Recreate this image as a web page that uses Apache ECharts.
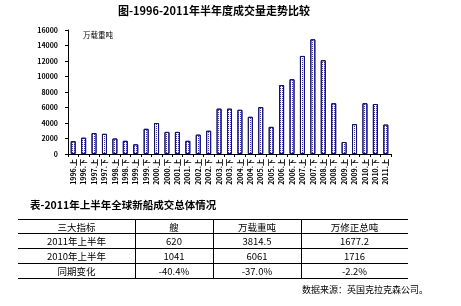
<!DOCTYPE html>
<html><head><meta charset="utf-8">
<script src="https://cdn.jsdelivr.net/npm/echarts@6/dist/echarts.min.js"></script>
<style>html,body{margin:0;padding:0;background:#fff}#c{width:461px;height:306px}</style>
</head><body><div id="c"></div>
<script>
const categories = ['1996.上','1996.下','1997.上','1997.下','1998.上','1998.下','1999.上','1999.下','2000.上','2000.下','2001.上','2001.下','2002.上','2002.下','2003.上','2003.下','2004.上','2004.下','2005.上','2005.下','2006.上','2006.下','2007.上','2007.下','2008.上','2008.下','2009.上','2009.下','2010.上','2010.下','2011.上'];
const volumes = [1650,2100,2700,2600,2000,1700,1250,3250,4000,2850,2850,1700,2500,3000,5850,5850,5700,4800,6050,3500,8900,9650,12650,14800,12100,6550,1550,3850,6550,6450,3800];
const yTicks = [0,2000,4000,6000,8000,10000,12000,14000,16000];
const chartTitle = '图-1996-2011年半年度成交量走势比较';
const unitLabel = '万载重吨';
const tableTitle = '表-2011年上半年全球新船成交总体情况';
const tableHeader = ['三大指标','艘','万载重吨','万修正总吨'];
const tableRow1 = ['2011年上半年','620','3814.5','1677.2'];
const tableRow2 = ['2010年上半年','1041','6061','1716'];
const tableRow3 = ['同期变化','-40.4%','-37.0%','-2.2%'];
const sourceNote = '数据来源：英国克拉克森公司。';

const FONT = '"Noto Sans CJK SC", "DejaVu Sans", sans-serif';
const chart = echarts.init(document.getElementById('c'), null, {renderer:'canvas'});

const colX = [18,135,213,301,408];
const rowY = [219,233,248,263,278];
const rows = [tableHeader, tableRow1, tableRow2, tableRow3];
const g = [];
g.push({type:'text', x:214, y:5, style:{text:chartTitle, font:'bold 11px '+FONT, fill:'#000', align:'center'}});
g.push({type:'text', x:83, y:31, style:{text:unitLabel, font:'7.5px '+FONT, fill:'#000'}});
g.push({type:'text', x:30, y:200, style:{text:tableTitle, font:'bold 10.5px '+FONT, fill:'#000'}});
rowY.forEach(y=>g.push({type:'line', shape:{x1:colX[0],y1:y+0.5,x2:colX[4],y2:y+0.5}, style:{stroke:'#000',lineWidth:1}}));
[1,2,3].forEach(i=>g.push({type:'line', shape:{x1:colX[i]+0.5,y1:rowY[0],x2:colX[i]+0.5,y2:rowY[4]}, style:{stroke:'#000',lineWidth:1}}));
rows.forEach((r,ri)=>{
  r.forEach((t,ci)=>{
    g.push({type:'text', x:(colX[ci]+colX[ci+1])/2, y:(rowY[ri]+rowY[ri+1])/2+1,
      style:{text:t, font:'9.5px '+FONT, fill:'#000', align:'center', verticalAlign:'middle'}});
  });
});
g.push({type:'text', x:302, y:285, style:{text:sourceNote, font:'9px '+FONT, fill:'#000'}});

chart.setOption({
  animation:false,
  backgroundColor:'#fff',
  grid:{left:68, top:30, width:323, height:124, containLabel:false},
  xAxis:{type:'category', data:categories,
    axisLine:{lineStyle:{color:'#000',width:1}},
    axisTick:{show:true, length:3, lineStyle:{color:'#000'}},
    axisLabel:{rotate:90, interval:0, fontSize:7, fontFamily:FONT, color:'#000', margin:5, fontWeight:'bold'}},
  yAxis:{type:'value', min:yTicks[0], max:yTicks[yTicks.length-1], interval:yTicks[1]-yTicks[0],
    axisLine:{show:true, lineStyle:{color:'#000'}},
    axisTick:{show:true, length:3, lineStyle:{color:'#000'}},
    splitLine:{show:false},
    axisLabel:{fontSize:7, fontFamily:FONT, color:'#000', margin:10, fontWeight:'bold', formatter:v=>String(v)}},
  series:[{type:'bar', data:volumes, barWidth:5,
    itemStyle:{color:'#ffffff', borderColor:'#14145a', borderWidth:1,
      decal:{symbol:'rect', symbolSize:1, dashArrayX:[1,1], dashArrayY:[1,1], color:'#3a3ab0', rotation:0}}}],
  graphic:g
});
</script></body></html>
